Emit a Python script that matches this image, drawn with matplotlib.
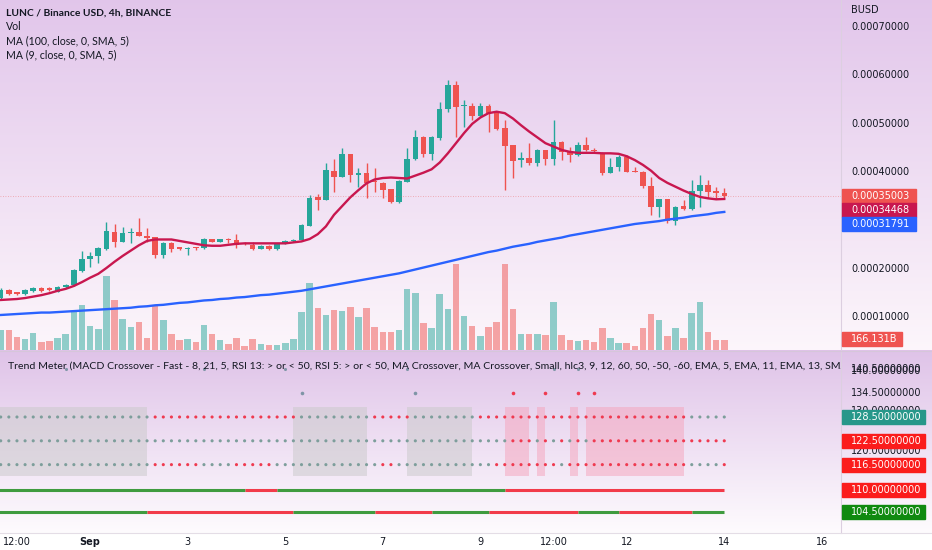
import numpy as np
import matplotlib
matplotlib.use("Agg")
import matplotlib.pyplot as plt
from matplotlib import transforms
from matplotlib.patches import Rectangle
from matplotlib.colors import to_rgba

W, H = 932, 550
PANE_R = 841          # right edge of the panes (px)
MAIN_B = 350          # bottom of price pane (px)
LOW_T, LOW_B = 351, 533

# 4h candles, prices in units of 1e-4 BUSD
U = 1e-4
open_ = [1.40, 1.57, 1.50, 1.49, 1.55, 1.60, 1.585, 1.53, 1.63, 1.66,
         1.95, 2.21, 2.27, 2.41, 2.77, 2.565, 2.74, 2.76, 2.68, 2.655,
         2.29, 2.53, 2.43, 2.41, 2.43, 2.44, 2.61, 2.56, 2.61, 2.60,
         2.53, 2.49, 2.42, 2.475, 2.41, 2.53, 2.57, 2.60, 2.895, 3.48,
         3.43, 4.03, 3.91, 4.37, 3.94, 3.99, 3.81, 3.78, 3.65, 3.38,
         3.80, 4.27, 4.73, 4.37, 4.71, 5.30, 5.80, 5.36, 5.37, 5.16,
         5.37, 5.25, 4.92, 4.56, 4.26, 4.29, 4.20, 4.45, 4.27, 4.63,
         4.44, 4.36, 4.56, 4.46, 4.40, 3.99, 4.11, 4.31, 4.03, 4.01,
         3.72, 3.29, 3.44, 3.00, 3.30, 3.23, 3.61, 3.74, 3.61, 3.58]
close = [1.57, 1.49, 1.49, 1.57, 1.60, 1.55, 1.575, 1.635, 1.66, 1.98,
         2.21, 2.27, 2.43, 2.785, 2.565, 2.74, 2.77, 2.69, 2.64, 2.29,
         2.53, 2.42, 2.42, 2.44, 2.425, 2.62, 2.56, 2.61, 2.60, 2.50,
         2.52, 2.42, 2.475, 2.41, 2.53, 2.57, 2.60, 2.91, 3.46, 3.43,
         4.05, 3.91, 4.37, 3.94, 3.98, 3.78, 3.80, 3.63, 3.38, 3.82,
         4.27, 4.73, 4.37, 4.72, 5.30, 5.80, 5.35, 5.37, 5.16, 5.37,
         5.23, 4.90, 4.55, 4.24, 4.28, 4.20, 4.45, 4.27, 4.63, 4.42,
         4.36, 4.56, 4.46, 4.44, 3.99, 4.11, 4.31, 4.01, 4.01, 3.72,
         3.29, 3.44, 3.00, 3.29, 3.23, 3.61, 3.74, 3.60, 3.58, 3.5003]
high = [1.60, 1.58, 1.53, 1.59, 1.62, 1.62, 1.62, 1.65, 1.68, 2.00,
        2.38, 2.36, 2.45, 2.98, 2.93, 2.875, 2.84, 3.06, 2.84, 2.67,
        2.55, 2.55, 2.45, 2.46, 2.46, 2.65, 2.63, 2.63, 2.65, 2.72,
        2.55, 2.55, 2.49, 2.49, 2.54, 2.59, 2.62, 2.93, 3.53, 3.55,
        4.18, 4.27, 4.49, 4.38, 4.08, 4.18, 4.08, 3.80, 3.66, 3.84,
        4.49, 4.87, 4.75, 4.74, 5.46, 5.90, 5.89, 5.49, 5.43, 5.43,
        5.40, 5.26, 5.08, 4.57, 4.42, 4.61, 4.47, 4.46, 5.08, 4.64,
        4.53, 4.63, 4.72, 4.51, 4.41, 4.29, 4.35, 4.35, 4.11, 4.02,
        3.91, 3.45, 3.45, 3.30, 3.43, 3.84, 3.94, 3.84, 3.69, 3.67]
low = [1.37, 1.47, 1.46, 1.47, 1.53, 1.53, 1.54, 1.52, 1.61, 1.64,
       1.94, 2.05, 2.12, 2.40, 2.46, 2.55, 2.53, 2.68, 2.56, 2.22,
       2.22, 2.36, 2.39, 2.28, 2.40, 2.41, 2.55, 2.55, 2.53, 2.43,
       2.50, 2.40, 2.41, 2.40, 2.40, 2.52, 2.56, 2.59, 2.88, 3.22,
       3.42, 3.60, 3.90, 3.80, 3.70, 3.46, 3.60, 3.46, 3.36, 3.37,
       3.79, 4.26, 4.32, 4.25, 4.67, 5.25, 4.73, 4.94, 5.08, 5.14,
       4.84, 4.88, 3.63, 3.87, 4.11, 4.15, 4.13, 4.15, 4.15, 4.25,
       4.22, 4.34, 4.44, 4.40, 3.94, 3.98, 4.03, 4.00, 4.00, 3.67,
       3.12, 3.08, 2.96, 2.91, 3.21, 3.22, 3.29, 3.46, 3.46, 3.47]
# volume, billions
volume = [332, 332, 216, 183, 282, 133, 149, 199, 266, 631,
          747, 398, 349, 1228, 830, 515, 382, 465, 199, 747,
          498, 266, 166, 183, 133, 415, 266, 166, 100, 199,
          66, 183, 100, 83, 83, 116, 183, 631, 1112, 697,
          581, 664, 647, 714, 548, 697, 382, 299, 299, 332,
          1013, 946, 448, 365, 930, 681, 1428, 564, 398, 232,
          382, 465, 1428, 681, 266, 266, 266, 249, 797, 249,
          166, 149, 166, 133, 365, 199, 116, 116, 66, 365,
          598, 498, 232, 365, 199, 614, 797, 299, 166, 166.131]
ma9 = [1.36, 1.37, 1.38, 1.40, 1.43, 1.46, 1.50, 1.55, 1.59, 1.65,
       1.73, 1.82, 1.90, 2.02, 2.15, 2.27, 2.38, 2.49, 2.58, 2.61,
       2.61, 2.61, 2.58, 2.55, 2.52, 2.49, 2.48, 2.48, 2.50, 2.52,
       2.53, 2.53, 2.53, 2.53, 2.53, 2.53, 2.55, 2.57, 2.62, 2.72,
       2.88, 3.12, 3.30, 3.48, 3.63, 3.77, 3.85, 3.88, 3.89, 3.88,
       3.87, 3.93, 3.99, 4.06, 4.20, 4.39, 4.60, 4.81, 5.00, 5.13,
       5.22, 5.25, 5.22, 5.11, 4.97, 4.84, 4.72, 4.60, 4.53, 4.46,
       4.42, 4.40, 4.40, 4.40, 4.39, 4.39, 4.38, 4.33, 4.25, 4.15,
       4.03, 3.88, 3.78, 3.70, 3.62, 3.55, 3.49, 3.46, 3.44, 3.4468]
ma100 = [1.05, 1.06, 1.07, 1.08, 1.09, 1.10, 1.10, 1.11, 1.12, 1.13,
         1.14, 1.15, 1.16, 1.17, 1.18, 1.19, 1.20, 1.22, 1.23, 1.25,
         1.26, 1.28, 1.30, 1.31, 1.33, 1.35, 1.36, 1.38, 1.39, 1.41,
         1.42, 1.44, 1.46, 1.47, 1.49, 1.51, 1.53, 1.55, 1.58, 1.61,
         1.64, 1.67, 1.70, 1.73, 1.76, 1.79, 1.82, 1.85, 1.88, 1.91,
         1.95, 1.99, 2.03, 2.07, 2.11, 2.15, 2.19, 2.23, 2.27, 2.31,
         2.35, 2.38, 2.42, 2.46, 2.49, 2.52, 2.56, 2.59, 2.62, 2.65,
         2.69, 2.72, 2.75, 2.78, 2.81, 2.84, 2.87, 2.90, 2.93, 2.95,
         2.97, 2.99, 3.02, 3.04, 3.06, 3.09, 3.11, 3.13, 3.16, 3.1791]

# x axis: bar index of each label
xtick_pos = [2, 11, 23, 35, 47, 59, 68, 77, 89, 101]
xtick_lab = ["12:00", "Sep", "3", "5", "7", "9", "12:00", "12", "14", "16"]
price_ticks = [1, 2, 4, 5, 6, 7]

# Trend Meter rows, run lengths of 'g' (bull) / 'r' (bear) states
tm_row1 = [("g", 19), ("r", 18), ("g", 9), ("r", 5), ("g", 8), ("r", 26), ("g", 5)]
tm_row2 = [("g", 63), ("r", 3), ("g", 1), ("r", 1), ("g", 1), ("r", 1), ("g", 1),
           ("r", 1), ("g", 1), ("r", 17)]
tm_row3 = [("g", 19), ("r", 6), ("g", 4), ("r", 5), ("g", 13), ("r", 2), ("g", 12),
           ("r", 8), ("g", 1), ("r", 15), ("g", 4), ("r", 1)]
tm_fast = [("g", 31), ("r", 4), ("g", 28), ("r", 27)]
tm_slow = [("g", 19), ("r", 18), ("g", 10), ("r", 7), ("g", 7), ("r", 11), ("g", 5),
           ("r", 9), ("g", 4)]
tm_levels = [128.5, 122.5, 116.5]
fast_level, slow_level = 110.0, 104.5
signal_level = 134.5
top_level = 140.5
top_dots = [8, 25, 35, 50, 68, 71]

GREEN, RED = "#26a69a", "#ef5350"
MA9_C, MA100_C = "#c8174f", "#2962ff"
TXT = "#131722"
DOT_G, DOT_R = "#7d9e9b", "#ef3a50"
LINE_G, LINE_R = "#3f9b3f", "#f23b4a"

plt.rcParams["font.family"] = ["DejaVu Sans"]

fig = plt.figure(figsize=(W / 100, H / 100), dpi=100)

# background: lilac fading to white in each pane
grad = np.ones((H, 1, 3))
t = np.linspace(0, 1, MAIN_B)[:, None]
grad[:MAIN_B, 0] = np.array([0.885, 0.775, 0.92]) * (1 - t) + np.array([0.99, 0.965, 0.985]) * t
t = np.linspace(0, 1, LOW_B - MAIN_B)[:, None]
grad[MAIN_B:LOW_B, 0] = np.array([0.875, 0.765, 0.91]) * (1 - t) + np.array([0.995, 0.985, 0.995]) * t
bg = fig.add_axes([0, 0, 1, 1], zorder=-10)
bg.imshow(grad, aspect="auto", extent=[0, W, H, 0], interpolation="bilinear")
bg.plot([PANE_R, PANE_R], [0, LOW_B], color="#dccfe0", lw=0.8)
bg.plot([0, W], [MAIN_B + 0.5, MAIN_B + 0.5], color="#d6c6da", lw=0.8)
bg.plot([0, W], [LOW_B, LOW_B], color="#e4dde6", lw=0.8)
bg.set_xlim(0, W)
bg.set_ylim(H, 0)
bg.axis("off")

n = len(open_)
idx = np.arange(n)
o = np.array(open_)
c = np.array(close)
up = c >= o
xlim = (-0.7 / 8.13, (PANE_R - 0.7) / 8.13)

main_rect = [0, 1 - MAIN_B / H, PANE_R / W, MAIN_B / H]

# volume overlay
axv = fig.add_axes(main_rect)
axv.set_facecolor("none")
vcol = [to_rgba(GREEN if u else RED, 0.5) for u in up]
axv.bar(idx, volume, width=0.8, color=vcol)
axv.set_xlim(*xlim)
axv.set_ylim(0, 5810)
axv.axis("off")

# price pane
ax = fig.add_axes(main_rect)
ax.set_facecolor("none")
ccol = np.where(up, GREEN, RED)
ax.vlines(idx, np.array(low) * U, np.array(high) * U, colors=ccol, lw=1)
body = np.maximum(np.abs(c - o), 0.025)
ax.bar(idx, body * U, bottom=np.minimum(o, c) * U, width=0.68, color=ccol)
ax.plot(idx, np.array(ma100) * U, color=MA100_C, lw=1.7)
ax.plot(idx, np.array(ma9) * U, color=MA9_C, lw=1.7)
ax.axhline(c[-1] * U, color=RED, lw=0.6, ls=(0, (1, 2)), alpha=0.5)
ax.set_xlim(*xlim)
ax.set_ylim((7 - (MAIN_B - 27) / 48.4) * U, (7 + 27 / 48.4) * U)
ax.axis("off")

# legend
fig.text(6 / W, 1 - 13 / H, "LUNC / Binance USD, 4h, BINANCE", fontsize=7.4,
         family="Lato", weight="bold", color=TXT, va="center")
for k, s in enumerate(["Vol", "MA (100, close, 0, SMA, 5)", "MA (9, close, 0, SMA, 5)"]):
    fig.text(6 / W, 1 - (27 + 14 * k) / H, s, fontsize=7.6, family="Lato",
             color=TXT, va="center")

# price scale
tr_main = transforms.blended_transform_factory(fig.transFigure, ax.transData)
fig.text(851 / W, 1 - 10 / H, "BUSD", fontsize=7, color=TXT, va="center")
for p in price_ticks:
    ax.text(851 / W, p * U, f"{p * U:.8f}", transform=tr_main, fontsize=7,
            color=TXT, va="center", clip_on=False)


def tag(ypix, text, color, width, fc="white"):
    # ypix counted from the figure bottom
    fig.patches.append(Rectangle((842 / W, (ypix - 7) / H), width / W, 14 / H,
                                 transform=fig.transFigure, color=color, zorder=5))
    fig.text(851 / W, ypix / H, text, fontsize=7, color=fc, va="center", zorder=6)


fig.canvas.draw()
prev = None
for val, col in [(c[-1], RED), (ma9[-1], MA9_C), (ma100[-1], MA100_C)]:
    yp = ax.transData.transform((0, val * U))[1]
    if prev is not None and yp > prev - 14:
        yp = prev - 14
    tag(yp, f"{val * U:.8f}", col, 74)
    prev = yp
tag(H - 339, f"{volume[-1]:.3f}B", RED, 60)


# Trend Meter pane
def expand(runs):
    out = []
    for s, k in runs:
        out += [s] * k
    return np.array(out)


ax2 = fig.add_axes([0, 1 - LOW_B / H, PANE_R / W, (LOW_B - LOW_T) / H])
ax2.set_facecolor("none")
ax2.set_xlim(*xlim)
ax2.set_ylim(128.5 - (LOW_B - 417) / 3.97, 128.5 + (417 - LOW_T) / 3.97)

rows = [expand(r) for r in (tm_row1, tm_row2, tm_row3)]
agree = (rows[0] == rows[1]) & (rows[1] == rows[2])
start = 0
for i in range(1, n + 1):
    if i == n or agree[i] != agree[start] or (agree[i] and rows[0][i] != rows[0][start]):
        if agree[start]:
            fc = "#c9c9c9" if rows[0][start] == "g" else "#f5a3bb"
            ax2.add_patch(Rectangle((start - 1, 113.6), i - start, 17.4,
                                    color=fc, alpha=0.5, lw=0, zorder=1))
            if start > 0:
                ax2.plot(start, signal_level, "o", ms=2.6, mew=0, zorder=3,
                         color=DOT_R if rows[0][start] == "r" else "#7f95a6")
        start = i

for lvl, r in zip(tm_levels, rows):
    ax2.scatter(idx, np.full(n, lvl), s=5, lw=0, zorder=3,
                c=[DOT_G if s == "g" else DOT_R for s in r])
ax2.scatter(top_dots, np.full(len(top_dots), top_level), s=5, lw=0,
            c="#8196a8", zorder=2)

# step lines: each run drawn as one stroke from bar (start-1) to bar end
for lvl, runs in [(fast_level, tm_fast), (slow_level, tm_slow)]:
    pos = 0
    for s, k in runs:
        ax2.plot([pos - 1, pos + k - 1], [lvl, lvl], lw=2.2, solid_capstyle="butt",
                 color=LINE_G if s == "g" else LINE_R, zorder=3)
        pos += k

ax2.text(8 / W, 1 - 366 / H,
         "Trend Meter (MACD Crossover - Fast - 8, 21, 5, RSI 13: > or < 50, RSI 5: > or < 50, "
         "MA Crossover, MA Crossover, Small, hlc3, 9, 12, 60, 50, -50, -60, EMA, 5, EMA, 11, "
         "EMA, 13, SMA", transform=fig.transFigure, fontsize=7.55, family="Lato",
         color=TXT, va="center", zorder=4, clip_on=True)

tr_low = transforms.blended_transform_factory(fig.transFigure, ax2.transData)
for v in [140.5, 140.0, 134.5, 130.0, 120.0]:
    ax2.text(851 / W, v, f"{v:.8f}", transform=tr_low, fontsize=7, color=TXT,
             va="center", clip_on=False)
for v, col in [(128.5, "#27978a"), (122.5, "#fb1c1c"), (116.5, "#fb1c1c"),
               (fast_level, "#fb1c1c"), (slow_level, "#108a10")]:
    tag(ax2.transData.transform((0, v))[1], f"{v:.8f}", col, 83)

ax2.set_xticks(xtick_pos)
ax2.set_xticklabels(xtick_lab)
ax2.tick_params(axis="x", length=0, pad=3, labelsize=7, labelcolor=TXT)
ax2.tick_params(axis="y", left=False, labelleft=False)
for lab in ax2.get_xticklabels():
    if lab.get_text() == "Sep":
        lab.set_fontweight("bold")
for sp in ax2.spines.values():
    sp.set_visible(False)

fig.savefig("out.png", dpi=100)
